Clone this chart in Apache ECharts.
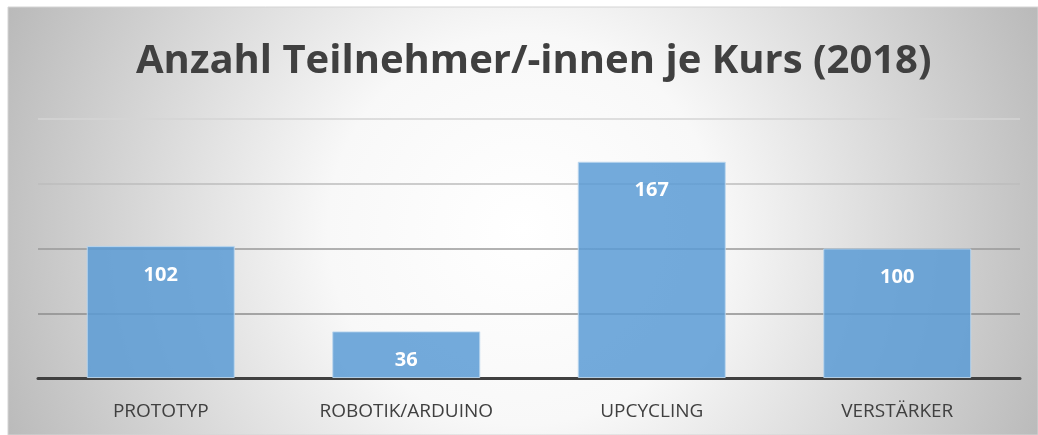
<!DOCTYPE html>
<html>
<head>
<meta charset="utf-8">
<script src="https://cdn.jsdelivr.net/npm/echarts@6/dist/echarts.min.js"></script>
<style>
  html, body { margin: 0; padding: 0; background: #fff; }
  #chartsDiv { width: 1038px; height: 435px; }
</style>
</head>
<body>
<div id="chartsDiv"></div>
<script>
var categories = ['PROTOTYP', 'ROBOTIK/ARDUINO', 'UPCYCLING', 'VERSTÄRKER']
var teilnehmer = [102, 36, 167, 100]
var chartTitle = 'Anzahl Teilnehmer/-innen je Kurs (2018)'

var realChart = echarts.init(document.getElementById('chartsDiv'), null, {
  renderer: 'canvas'
})

var option = {
  animation: false,
  backgroundColor: '#fff',
  graphic: [
    {
      // Hintergrund mit Verlauf von der Mitte
      type: 'rect',
      z: -10,
      silent: true,
      shape: { x: 8, y: 7, width: 1030, height: 428 },
      style: {
        fill: {
          type: 'radial',
          x: 0.5,
          y: 0.52,
          r: 1.3,
          colorStops: [
            { offset: 0, color: '#ffffff' },
            { offset: 0.35, color: '#f8f8f8' },
            { offset: 1, color: '#bababa' }
          ]
        },
        stroke: '#d4d4d4',
        lineWidth: 1
      }
    }
  ],
  title: {
    text: chartTitle,
    left: 131,
    top: 37,
    textStyle: {
      color: '#404040',
      fontFamily: 'Open Sans',
      fontWeight: 'bold',
      fontSize: 40
    }
  },
  grid: {
    left: 38,
    right: 18,
    top: 119,
    bottom: 57
  },
  xAxis: {
    type: 'category',
    data: categories,
    axisLine: {
      lineStyle: { color: '#404040', width: 3 }
    },
    axisTick: { show: false },
    axisLabel: {
      color: '#404040',
      fontFamily: 'Open Sans',
      fontSize: 19,
      margin: 24
    }
  },
  yAxis: {
    type: 'value',
    min: 0,
    max: 200,
    interval: 50,
    axisLine: { show: false },
    axisTick: { show: false },
    axisLabel: { show: false },
    splitLine: {
      lineStyle: {
        color: ['#444', '#8c8c8c', '#999999', '#bcbcbc', '#d4d4d4'],
        width: 1.5
      }
    }
  },
  series: [
    {
      type: 'bar',
      data: teilnehmer,
      barWidth: 148,
      itemStyle: {
        color: 'rgba(91, 155, 213, 0.85)',
        borderColor: 'rgba(189, 215, 238, 0.9)',
        borderWidth: 1
      },
      label: {
        show: true,
        position: 'insideTop',
        distance: 19,
        color: '#fff',
        fontFamily: 'Open Sans',
        fontWeight: 'bold',
        fontSize: 20
      }
    }
  ]
}

realChart.setOption(option)
</script>
</body>
</html>
